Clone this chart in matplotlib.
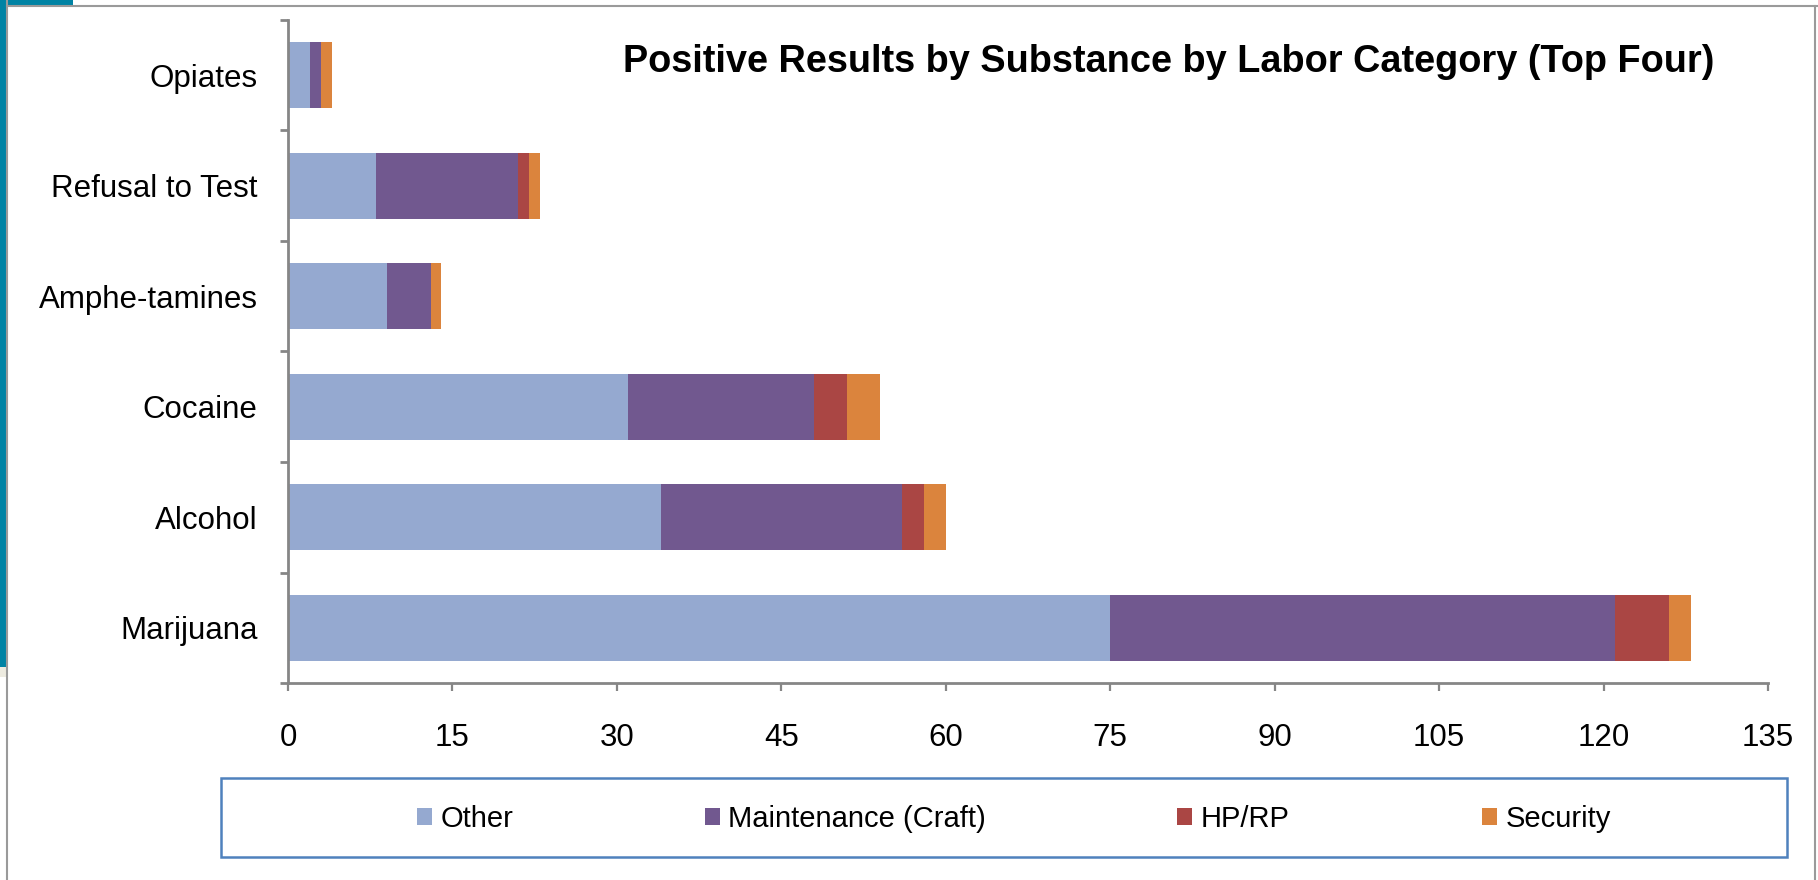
import matplotlib
matplotlib.use("Agg")
import matplotlib.pyplot as plt
from matplotlib.patches import Rectangle, Patch
from matplotlib.lines import Line2D

plt.rcParams["font.family"] = ["Liberation Sans", "DejaVu Sans"]

# substances, listed bottom to top
substances = ["Marijuana", "Alcohol", "Cocaine", "Amphe-tamines", "Refusal to Test", "Opiates"]
other = [75, 34, 31, 9, 8, 2]
maintenance = [46, 22, 17, 4, 13, 1]
hp_rp = [5, 2, 3, 0, 1, 0]
security = [2, 2, 3, 1, 1, 1]

series_names = ["Other", "Maintenance (Craft)", "HP/RP", "Security"]
series_colors = ["#95A9D0", "#71588F", "#AA4644", "#DB843D"]
x_ticks = list(range(0, 136, 15))

W, H = 1818, 880
fig = plt.figure(figsize=(W / 100, H / 100), dpi=100)


def fx(px):
    return px / W


def fy(py):
    return 1 - py / H


ax = fig.add_axes([fx(288), fy(683), fx(1768) - fx(288), fy(20) - fy(683)])

ypos = list(range(len(substances)))
left = [0] * len(substances)
for vals, name, col in zip([other, maintenance, hp_rp, security], series_names, series_colors):
    ax.barh(ypos, vals, left=left, height=0.6, color=col, label=name)
    left = [a + b for a, b in zip(left, vals)]

ax.set_xlim(0, 135)
ax.set_ylim(-0.5, len(substances) - 0.5)
ax.set_xticks(x_ticks)

# category boundary ticks on the y axis, labels centred on the bars
ax.set_yticks([i - 0.5 for i in range(len(substances) + 1)])
ax.set_yticklabels([])
ax.set_yticks(ypos, minor=True)
ax.set_yticklabels(substances, minor=True, fontsize=22.5)
ax.tick_params(axis="y", which="minor", length=0, pad=22)
ax.tick_params(axis="y", which="major", length=6, width=2, color="#868686", direction="out")
ax.tick_params(axis="x", length=6, width=1.6, color="#868686", direction="out",
               labelsize=22.5, pad=23)

for side in ["top", "right"]:
    ax.spines[side].set_visible(False)
for side in ["left", "bottom"]:
    ax.spines[side].set_color("#868686")
    ax.spines[side].set_linewidth(2)

fig.text(fx(1169), fy(62), "Positive Results by Substance by Labor Category (Top Four)",
         fontsize=27.3, fontweight="bold", ha="center", va="center")

# legend inside a blue framed box, one entry per series
fig.add_artist(Rectangle((fx(221), fy(857)), fx(1787) - fx(221), fy(778) - fy(857),
                         transform=fig.transFigure, fill=False, edgecolor="#4F81BD", lw=1.8))
entry_x = [417, 705, 1177, 1482]
for name, col, x0 in zip(series_names, series_colors, entry_x):
    fig.legend([Patch(facecolor=col, edgecolor="none")], [name], loc="center left",
               bbox_to_anchor=(fx(x0), fy(819)), frameon=False, fontsize=21,
               handlelength=0.52, handleheight=0.52, handletextpad=0.28,
               borderpad=0, borderaxespad=0)

# slide frame decorations
fig.add_artist(Rectangle((0, fy(667)), fx(6), fy(0) - fy(667), transform=fig.transFigure,
                         color="#0083A4", lw=0))
fig.add_artist(Rectangle((0, fy(5)), fx(73), fy(0) - fy(5), transform=fig.transFigure,
                         color="#0083A4", lw=0))
fig.add_artist(Rectangle((0, fy(677)), fx(6), fy(667) - fy(677), transform=fig.transFigure,
                         color="#EDEBE0", lw=0))
fig.add_artist(Line2D([fx(7.5), fx(7.5)], [0, 1], transform=fig.transFigure,
                      color="#9A9A9A", lw=1.5))
fig.add_artist(Line2D([fx(7), 1], [fy(6), fy(6)], transform=fig.transFigure,
                      color="#9A9A9A", lw=1.5))
fig.add_artist(Line2D([fx(1815), fx(1815)], [0, fy(6)], transform=fig.transFigure,
                      color="#9A9A9A", lw=1.5))

fig.savefig("out.png", dpi=100)
